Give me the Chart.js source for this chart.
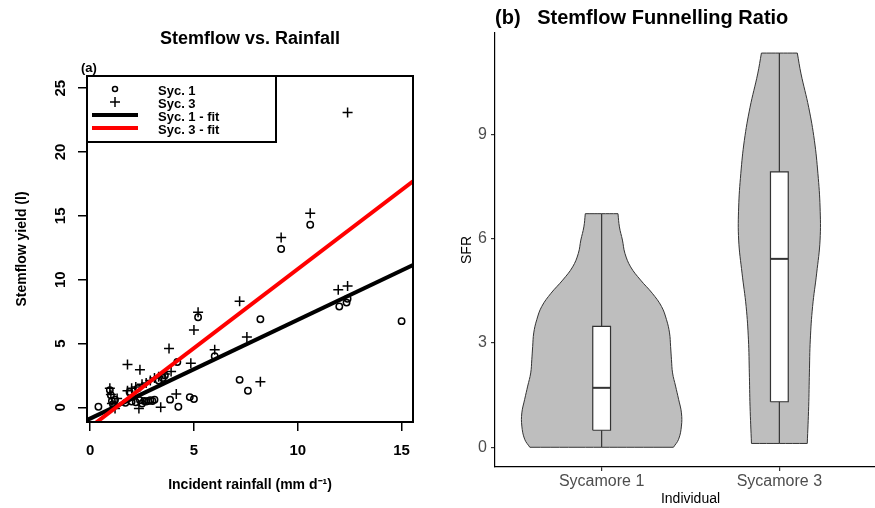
<!DOCTYPE html>
<html>
<head>
<meta charset="utf-8">
<script src="https://cdn.jsdelivr.net/npm/chart.js@4.4.0/dist/chart.umd.min.js"></script>
<style>
  html, body { margin: 0; padding: 0; background: #fff; }
  body { width: 875px; height: 508px; overflow: hidden; position: relative; }
  #rainChart { position: absolute; left: 0; top: 0; }
  #sfrChart { position: absolute; left: 440px; top: 0; }
</style>
</head>
<body>
<canvas id="rainChart" width="440" height="508"></canvas>
<canvas id="sfrChart" width="446" height="508"></canvas>
<script>
// (a) stemflow vs rainfall - daily values
const syc1Rain = [0.4, 0.95, 1.0, 1.05, 1.1, 1.2, 1.7, 1.9, 2.0, 2.2, 2.3, 2.4, 2.5, 2.6, 2.7, 2.8, 2.9, 3.0, 3.1, 3.3, 3.5, 3.6, 3.85, 4.2, 4.25, 4.8, 5.0, 5.2, 6.0, 7.2, 7.6, 8.2, 9.2, 10.6, 12.0, 12.35, 12.4, 15.0];
const syc1Flow = [0.05, 1.35, 0.95, 0.5, 0.25, 0.6, 0.35, 1.2, 0.45, 0.4, 1.5, 0.55, 0.3, 0.5, 0.45, 0.5, 0.55, 0.5, 0.6, 2.1, 2.3, 2.5, 0.6, 3.55, 0.05, 0.8, 0.65, 7.05, 4.0, 2.15, 1.3, 6.9, 12.4, 14.3, 7.9, 8.2, 8.5, 6.75];
const syc3Rain = [0.95, 1.0, 1.05, 1.2, 1.3, 1.8, 1.8, 2.0, 2.2, 2.35, 2.4, 2.5, 2.7, 2.9, 3.1, 3.3, 3.4, 3.6, 3.8, 3.9, 4.15, 4.85, 5.0, 5.2, 6.0, 7.2, 7.55, 8.2, 9.2, 10.6, 11.95, 12.4, 12.4];
const syc3Flow = [1.5, 1.0, 0.3, -0.1, 0.7, 3.35, 1.3, 1.5, 1.6, -0.1, 2.95, 1.8, 1.9, 2.1, 2.3, 2.4, 0.0, 2.6, 4.6, 2.8, 1.05, 3.45, 6.05, 7.45, 4.5, 8.3, 5.5, 2.0, 13.3, 15.2, 9.2, 9.5, 23.1];
const fitRain = [-0.15, 15.55];
const syc1FitFlow = [-1.0, 11.14];
const syc3FitFlow = [-1.74, 17.7];
const rainTicks = [0, 5, 10, 15];
const flowTicks = [0, 5, 10, 15, 20, 25];

// (b) funnelling ratio - violin outlines (half widths in category units) and box stats
const individuals = ['Sycamore 1', 'Sycamore 3'];
const sfrTicks = [0, 3, 6, 9];
const violin1Sfr = [0, 0.23, 0.61, 0.99, 1.38, 1.76, 2.14, 2.52, 2.90, 3.29, 3.67, 4.05, 4.43, 4.81, 5.19, 5.58, 5.96, 6.34, 6.72];
const violin1Half = [0.404, 0.433, 0.449, 0.449, 0.433, 0.416, 0.399, 0.393, 0.388, 0.382, 0.365, 0.337, 0.285, 0.219, 0.163, 0.131, 0.117, 0.100, 0.092];
const violin3Sfr = [0.11, 1.18, 2.14, 3.09, 4.05, 5.01, 5.96, 6.91, 7.87, 8.83, 9.78, 10.74, 11.34];
const violin3Half = [0.157, 0.165, 0.169, 0.174, 0.187, 0.210, 0.229, 0.229, 0.217, 0.197, 0.165, 0.122, 0.101];
const boxMin = [0, 0.11];
const boxQ1 = [0.49, 1.31];
const boxMedian = [1.71, 5.42];
const boxQ3 = [3.48, 7.92];
const boxMax = [6.72, 11.34];

const family = '"Liberation Sans", Arial, Helvetica, sans-serif';

function toPoints(xs, ys) {
    return xs.map((x, i) => ({ x: x, y: ys[i] }));
}

// R style box, title, panel letter, rotated y labels and legend
const rainDecor = {
    id: 'rainDecor',
    afterDatasetsDraw(chart) {
        const { ctx, chartArea: a } = chart;
        ctx.save();
        ctx.strokeStyle = '#000';
        ctx.lineWidth = 2;
        ctx.strokeRect(a.left, a.top, a.right - a.left, a.bottom - a.top);
        ctx.restore();
    },
    afterDraw(chart) {
        const { ctx, chartArea: a } = chart;
        const yScale = chart.scales.y;
        ctx.save();
        ctx.fillStyle = '#000';

        ctx.font = 'bold 18px ' + family;
        ctx.textAlign = 'center';
        ctx.textBaseline = 'alphabetic';
        ctx.fillText('Stemflow vs. Rainfall', (a.left + a.right) / 2, 44);

        ctx.font = 'bold 13px ' + family;
        ctx.textAlign = 'left';
        ctx.fillText('(a)', 81, 72);

        // y tick labels, parallel to the axis
        ctx.font = 'bold 15px ' + family;
        ctx.textAlign = 'center';
        flowTicks.forEach(v => {
            ctx.save();
            ctx.translate(65, yScale.getPixelForValue(v));
            ctx.rotate(-Math.PI / 2);
            ctx.fillText(String(v), 0, 0);
            ctx.restore();
        });

        // legend
        const lx = a.left, ly = a.top, lw = 189, lh = 66;
        ctx.fillStyle = '#fff';
        ctx.fillRect(lx, ly, lw, lh);
        ctx.strokeStyle = '#000';
        ctx.lineWidth = 2;
        ctx.strokeRect(lx, ly, lw, lh);

        const order = ['Syc. 1', 'Syc. 3', 'Syc. 1 - fit', 'Syc. 3 - fit'];
        ctx.font = 'bold 13px ' + family;
        ctx.textAlign = 'left';
        order.forEach((label, i) => {
            const ds = chart.data.datasets.find(d => d.label === label);
            const cy = ly + 13 + i * 13;
            ctx.strokeStyle = ds.borderColor;
            if (ds.showLine) {
                ctx.lineWidth = ds.borderWidth;
                ctx.beginPath();
                ctx.moveTo(lx + 5, cy);
                ctx.lineTo(lx + 51, cy);
                ctx.stroke();
            } else if (ds.pointStyle === 'circle') {
                ctx.lineWidth = 1.5;
                ctx.beginPath();
                ctx.arc(lx + 28, cy, 2.5, 0, Math.PI * 2);
                ctx.stroke();
            } else {
                ctx.lineWidth = 1.5;
                ctx.beginPath();
                ctx.moveTo(lx + 23, cy); ctx.lineTo(lx + 33, cy);
                ctx.moveTo(lx + 28, cy - 5); ctx.lineTo(lx + 28, cy + 5);
                ctx.stroke();
            }
            ctx.fillStyle = '#000';
            ctx.fillText(label, lx + 71, cy + 6);
        });
        ctx.restore();
    }
};

new Chart(document.getElementById('rainChart'), {
    type: 'scatter',
    data: {
        datasets: [
            { label: 'Syc. 3 - fit', data: toPoints(fitRain, syc3FitFlow), showLine: true, borderColor: '#ff0000', borderWidth: 4, pointRadius: 0, clip: 0, order: 1 },
            { label: 'Syc. 1 - fit', data: toPoints(fitRain, syc1FitFlow), showLine: true, borderColor: '#000000', borderWidth: 4, pointRadius: 0, clip: 0, order: 2 },
            { label: 'Syc. 3', data: toPoints(syc3Rain, syc3Flow), pointStyle: 'cross', pointRadius: 5, borderColor: '#000000', borderWidth: 1.5, order: 3 },
            { label: 'Syc. 1', data: toPoints(syc1Rain, syc1Flow), pointStyle: 'circle', pointRadius: 3.2, borderColor: '#000000', backgroundColor: 'rgba(0,0,0,0)', borderWidth: 1.5, order: 4 }
        ]
    },
    options: {
        responsive: false,
        animation: false,
        devicePixelRatio: 1,
        layout: { padding: { top: 76, right: 27, left: 0, bottom: 0 } },
        plugins: { legend: { display: false }, tooltip: { enabled: false } },
        scales: {
            x: {
                type: 'linear', min: -0.15, max: 15.55,
                afterBuildTicks: s => { s.ticks = rainTicks.map(v => ({ value: v })); },
                afterFit: s => { s.height = 86; },
                ticks: { font: { family: family, size: 15, weight: 'bold' }, color: '#000', padding: 11 },
                grid: { display: true, drawOnChartArea: false, drawTicks: true, tickLength: 9, color: '#000', lineWidth: 1.5 },
                border: { display: false },
                title: { display: true, text: 'Incident rainfall (mm d\u207B\u00B9)', font: { family: family, size: 14, weight: 'bold' }, color: '#000', padding: { top: 0, bottom: 14.6 } }
            },
            y: {
                type: 'linear', min: -1.15, max: 25.95,
                afterBuildTicks: s => { s.ticks = flowTicks.map(v => ({ value: v })); },
                afterFit: s => { s.width = 87; },
                ticks: { display: false },
                grid: { display: true, drawOnChartArea: false, drawTicks: true, tickLength: 9, color: '#000', lineWidth: 1.5 },
                border: { display: false },
                title: { display: true, text: 'Stemflow yield (l)', font: { family: family, size: 14, weight: 'bold' }, color: '#000', padding: { top: 14.1, bottom: 0 } }
            }
        }
    },
    plugins: [rainDecor]
});

// violins + boxplots
const violinSfr = [violin1Sfr, violin3Sfr];
const violinHalf = [violin1Half, violin3Half];
const boxHalf = 0.05;
const sfrDatasets = [];

individuals.forEach((name, i) => {
    const c = i + 1;
    const right = violinSfr[i].map((y, k) => ({ x: c + violinHalf[i][k], y: y }));
    const left = violinSfr[i].map((y, k) => ({ x: c - violinHalf[i][k], y: y })).reverse();
    // doubled corner points keep the flat ends sharp while the sides are smoothed
    const outline = [];
    [right, left].forEach(side => {
        side.forEach((p, k) => {
            outline.push(p);
            if (k === 0 || k === side.length - 1) outline.push({ x: p.x, y: p.y });
        });
    });
    outline.push({ x: right[0].x, y: right[0].y });

    sfrDatasets.push({ label: name + ' violin', data: outline, showLine: true, fill: 'shape', tension: 0.4, backgroundColor: '#bebebe', borderColor: '#333333', borderWidth: 1, pointRadius: 0, order: 4 });
    sfrDatasets.push({ label: name + ' whisker', data: [{ x: c, y: boxMin[i] }, { x: c, y: boxMax[i] }], showLine: true, borderColor: '#333333', borderWidth: 1.2, pointRadius: 0, order: 3 });
    sfrDatasets.push({
        label: name + ' box',
        data: [
            { x: c - boxHalf, y: boxQ1[i] }, { x: c + boxHalf, y: boxQ1[i] },
            { x: c + boxHalf, y: boxQ3[i] }, { x: c - boxHalf, y: boxQ3[i] },
            { x: c - boxHalf, y: boxQ1[i] }
        ],
        showLine: true, fill: 'shape', backgroundColor: '#ffffff', borderColor: '#333333', borderWidth: 1.2, pointRadius: 0, order: 2
    });
    sfrDatasets.push({ label: name + ' median', data: [{ x: c - boxHalf, y: boxMedian[i] }, { x: c + boxHalf, y: boxMedian[i] }], showLine: true, borderColor: '#333333', borderWidth: 2, pointRadius: 0, order: 1 });
});

const sfrTitle = {
    id: 'sfrTitle',
    afterDraw(chart) {
        const { ctx, chartArea: a } = chart;
        ctx.save();
        ctx.fillStyle = '#000';
        ctx.font = 'bold 20px ' + family;
        ctx.textAlign = 'left';
        ctx.textBaseline = 'alphabetic';
        ctx.fillText('(b)   Stemflow Funnelling Ratio', a.left, 23.5);
        ctx.restore();
    }
};

new Chart(document.getElementById('sfrChart'), {
    type: 'scatter',
    data: { datasets: sfrDatasets },
    options: {
        responsive: false,
        animation: false,
        devicePixelRatio: 1,
        layout: { padding: { top: 33, right: 0, left: 0, bottom: 0 } },
        plugins: { legend: { display: false }, tooltip: { enabled: false } },
        scales: {
            x: {
                type: 'linear', min: 0.4, max: 2.6,
                afterBuildTicks: s => { s.ticks = individuals.map((n, i) => ({ value: i + 1 })); },
                afterFit: s => { s.height = 41; },
                ticks: { callback: v => individuals[v - 1], font: { family: family, size: 16 }, color: '#4d4d4d', padding: 1 },
                grid: { display: true, drawOnChartArea: false, drawTicks: true, tickLength: 4, color: '#333333', lineWidth: 1.2 },
                border: { display: true, color: '#000', width: 1.2 },
                title: { display: true, text: 'Individual', font: { family: family, size: 14 }, color: '#000', padding: { top: 0, bottom: 0 } }
            },
            y: {
                type: 'linear', min: -0.5675, max: 11.9175,
                afterBuildTicks: s => { s.ticks = sfrTicks.map(v => ({ value: v })); },
                afterFit: s => { s.width = 55; },
                ticks: { font: { family: family, size: 16 }, color: '#4d4d4d', padding: 4 },
                grid: { display: true, drawOnChartArea: false, drawTicks: true, tickLength: 4, color: '#333333', lineWidth: 1.2 },
                border: { display: true, color: '#000', width: 1.2 },
                title: { display: true, text: 'SFR', font: { family: family, size: 14 }, color: '#000', padding: { top: 18.3, bottom: 0 } }
            }
        }
    },
    plugins: [sfrTitle]
});
</script>
</body>
</html>
